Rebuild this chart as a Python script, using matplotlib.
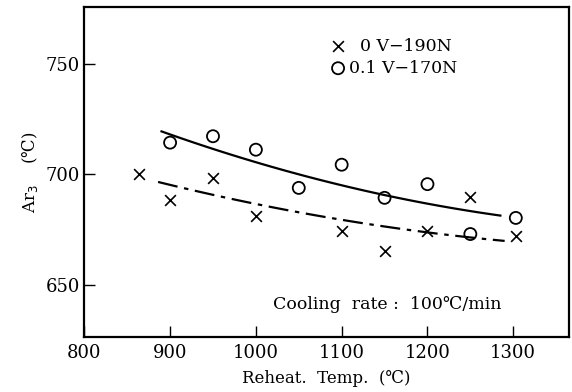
import numpy as np
import matplotlib
matplotlib.use('Agg')
from matplotlib import pyplot as plt

# data
x_cross = [864, 900, 950, 1000, 1100, 1150, 1200, 1250, 1303]
y_cross = [700, 688.5, 698.5, 681.2, 674.5, 665.5, 674.5, 689.7, 672.1]

x_circle = [900, 950, 1000, 1050, 1100, 1150, 1200, 1250, 1303]
y_circle = [714.4, 717.3, 711.2, 693.9, 704.4, 689.4, 695.6, 673.0, 680.3]

# fitted curves (traced)
x_fit_circle = [890, 950, 1000, 1050, 1100, 1150, 1200, 1250, 1285]
y_fit_circle = [719.2, 712.0, 705.6, 700.0, 695.0, 690.5, 686.7, 683.5, 681.4]

x_fit_cross = [886, 950, 1000, 1050, 1100, 1150, 1200, 1250, 1290]
y_fit_cross = [696.5, 691.0, 686.7, 682.7, 679.1, 676.4, 674.2, 671.5, 669.7]

x_ticks = [800, 900, 1000, 1100, 1200, 1300]
y_ticks = [650, 700, 750]

serif = ['DejaVu Serif', 'DejaVu Sans']
plt.rcParams['font.family'] = serif

fig = plt.figure(figsize=(5.72, 3.92), dpi=100)
ax = fig.add_axes([84.3 / 572, 1 - 336.7 / 392, (569 - 84.3) / 572, (336.7 - 7.3) / 392])

# smooth the traced curves a little
def smooth(xs, ys):
    c = np.polyfit(xs, ys, 2)
    xx = np.linspace(xs[0], xs[-1], 100)
    return xx, np.polyval(c, xx)

xs, ys = smooth(x_fit_circle, y_fit_circle)
ax.plot(xs, ys, color='black', lw=1.6)
xs, ys = smooth(x_fit_cross, y_fit_cross)
ax.plot(xs, ys, color='black', lw=1.6, dashes=(9, 3, 2, 3))

h1 = ax.scatter(x_cross, y_cross, marker='x', s=60, color='black', linewidths=1.2)
h2 = ax.scatter(x_circle, y_circle, marker='o', s=75, facecolors='none',
                edgecolors='black', linewidths=1.3)

ax.legend([h1, h2], ['  0 V\u2212190N', '0.1 V\u2212170N'], loc='upper left',
          bbox_to_anchor=(0.477, 0.945), frameon=False, fontsize=12.5,
          handletextpad=0.05, labelspacing=0.3, handlelength=1.2,
          borderpad=0.2)

ax.text(1286, 641, 'Cooling  rate :  100\u2103/min', ha='right', va='center',
        fontsize=12.5)

ax.set_xlim(800, 1365)
ax.set_ylim(626.5, 775.7)
ax.set_xticks(x_ticks)
ax.set_yticks(y_ticks)
ax.tick_params(direction='in', length=8, width=1, labelsize=13)
ax.tick_params(axis='y', pad=3)
ax.tick_params(axis='x', pad=5)
for s in ax.spines.values():
    s.set_linewidth(1.6)

ax.set_xlabel('Reheat.  Temp.  (\u2103)', fontsize=12, labelpad=6)
ax.set_ylabel('Ar$_3$    (\u2103)', fontsize=12, labelpad=4)

fig.savefig('out.png', dpi=100)
